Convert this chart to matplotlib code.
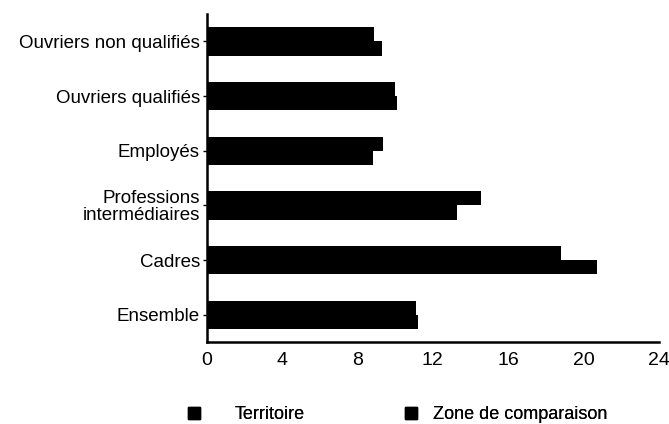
import numpy as np
import matplotlib
matplotlib.use("Agg")
import matplotlib.pyplot as plt
from matplotlib.patches import Patch

plt.rcParams['font.family'] = ['Liberation Sans', 'DejaVu Sans']

# Categories, from top to bottom
categories = ["Ouvriers non qualifiés", "Ouvriers qualifiés", "Employés",
              "Professions\nintermédiaires", "Cadres", "Ensemble"]
territoire = [8.9, 10.0, 9.35, 14.55, 18.8, 11.1]
zone_comparaison = [9.3, 10.1, 8.8, 13.3, 20.7, 11.2]
series_names = ["Territoire", "Zone de comparaison"]
xticks = [0, 4, 8, 12, 16, 20, 24]

fig = plt.figure(figsize=(6.69, 4.24), dpi=100)
ax = fig.add_axes([0.309, 0.193, 0.676, 0.774])

y = np.arange(len(categories))
h = 0.26
ax.barh(y - h / 2, territoire, height=h, color="black")
ax.barh(y + h / 2, zone_comparaison, height=h, color="black")

ax.set_ylim(len(categories) - 0.5, -0.5)
ax.set_xlim(0, 24)
ax.set_yticks(y)
ax.set_yticklabels(categories, fontsize=13.5, linespacing=0.95)
ax.set_xticks(xticks)
ax.set_xticklabels([str(t) for t in xticks], fontsize=14)

for s in ["top", "right"]:
    ax.spines[s].set_visible(False)
ax.spines["left"].set_linewidth(1.8)
ax.spines["bottom"].set_linewidth(1.8)
ax.tick_params(axis="y", length=3, width=1, pad=2)
ax.tick_params(axis="x", length=0, pad=7)

# one legend per series so each can sit where it does in the original
leg_x = [0.281, 0.605]
leg_pad = [1.9, 0.9]
for name, lx, pad in zip(series_names, leg_x, leg_pad):
    leg = fig.legend(handles=[Patch(color="black", label=name)], loc="center left",
                     bbox_to_anchor=(lx, 0.022), frameon=False, fontsize=13,
                     borderpad=0, borderaxespad=0, handlelength=0.66,
                     handleheight=0.66, handletextpad=pad)
    fig.add_artist(leg)

fig.savefig("out.png", dpi=100)
